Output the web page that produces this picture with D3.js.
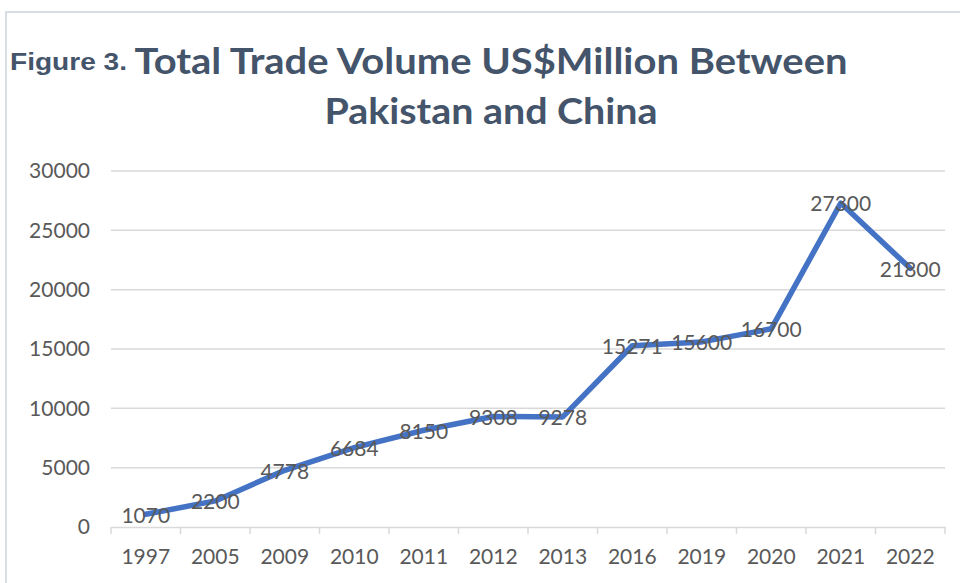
<!DOCTYPE html>
<html><head><meta charset="utf-8">
<script src="https://cdn.jsdelivr.net/npm/d3@7"></script>
<style>
html,body{margin:0;padding:0;background:#fff;}
svg{display:block;}
</style></head>
<body>
<script>
const years = ["1997","2005","2009","2010","2011","2012","2013","2016","2019","2020","2021","2022"];
const tradeVolume = [1070,2200,4778,6684,8150,9308,9278,15271,15600,16700,27300,21800];
const yTicks = [0,5000,10000,15000,20000,25000,30000];
const titleLines = ["Total Trade Volume US$Million Between","Pakistan and China"];
const figureLabel = "Figure 3.";

const W = 960, H = 583;
const svg = d3.select("body").append("svg").attr("width", W).attr("height", H);

// chart border
svg.append("rect").attr("x",6).attr("y",12).attr("width",W+20).attr("height",H+20)
  .attr("fill","none").attr("stroke","#D9DEE6").attr("stroke-width",2);

const x = d3.scaleBand().domain(years).range([111,945]);
const y = d3.scaleLinear().domain([0,30000]).range([527,171]);

// gridlines
svg.append("g").selectAll("line").data(yTicks.filter(d=>d>0)).join("line")
  .attr("x1",111).attr("x2",945).attr("y1",d=>y(d)).attr("y2",d=>y(d))
  .attr("stroke","#D9D9D9").attr("stroke-width",1.5);

// y axis labels
const yAxis = d3.axisLeft(y).tickValues(yTicks).tickSize(0).tickPadding(0).tickFormat(d3.format("d"));
const gy = svg.append("g").attr("transform","translate(90,0)").call(yAxis);
gy.select(".domain").remove();
gy.selectAll("text").attr("font-family","Lato, 'Open Sans', sans-serif").attr("font-size",21)
  .attr("fill","#595959");

// x axis
const xAxis = d3.axisBottom(x).tickSize(0).tickPadding(22);
const gx = svg.append("g").attr("transform","translate(0,527)").call(xAxis);
gx.select(".domain").attr("stroke","#D9D9D9").attr("stroke-width",1.5);
gx.selectAll("text").attr("font-family","Lato, 'Open Sans', sans-serif").attr("font-size",21)
  .attr("fill","#595959");
// category boundary ticks
const bounds = years.map(d=>x(d)).concat([x(years[years.length-1])+x.bandwidth()]);
svg.append("g").selectAll("line").data(bounds).join("line")
  .attr("x1",d=>d).attr("x2",d=>d).attr("y1",527).attr("y2",534)
  .attr("stroke","#D9D9D9").attr("stroke-width",1.5);

// line
const pts = years.map((d,i)=>[x(d)+x.bandwidth()/2, y(tradeVolume[i])]);
const line = d3.line().curve(d3.curveLinear);
svg.append("path").attr("d", line(pts)).attr("fill","none")
  .attr("stroke","#4472C4").attr("stroke-width",5.5).attr("stroke-linejoin","round").attr("stroke-linecap","round");

// data labels
svg.append("g").selectAll("text").data(years).join("text")
  .attr("x",(d)=>x(d)+x.bandwidth()/2).attr("y",(d,i)=>y(tradeVolume[i]))
  .attr("dy","0.4em").attr("text-anchor","middle")
  .attr("font-family","Lato, 'Open Sans', sans-serif").attr("font-size",21)
  .attr("fill","#595959").text((d,i)=>tradeVolume[i]);

// title
svg.append("text").attr("x",10).attr("y",70).attr("font-family","'Liberation Sans', Arial, sans-serif")
  .attr("font-size",23).attr("font-weight","bold").attr("fill","#44546A")
  .attr("textLength",117).attr("lengthAdjust","spacingAndGlyphs").text(figureLabel);
svg.append("text").attr("x",491).attr("y",74).attr("text-anchor","middle")
  .attr("font-family","Lato, 'Open Sans', sans-serif").attr("font-size",37).attr("font-weight","bold")
  .attr("fill","#44546A").attr("textLength",713).attr("lengthAdjust","spacingAndGlyphs").text(titleLines[0]);
svg.append("text").attr("x",491).attr("y",124).attr("text-anchor","middle")
  .attr("font-family","Lato, 'Open Sans', sans-serif").attr("font-size",37).attr("font-weight","bold")
  .attr("fill","#44546A").attr("textLength",333).attr("lengthAdjust","spacingAndGlyphs").text(titleLines[1]);
</script>
</body></html>
